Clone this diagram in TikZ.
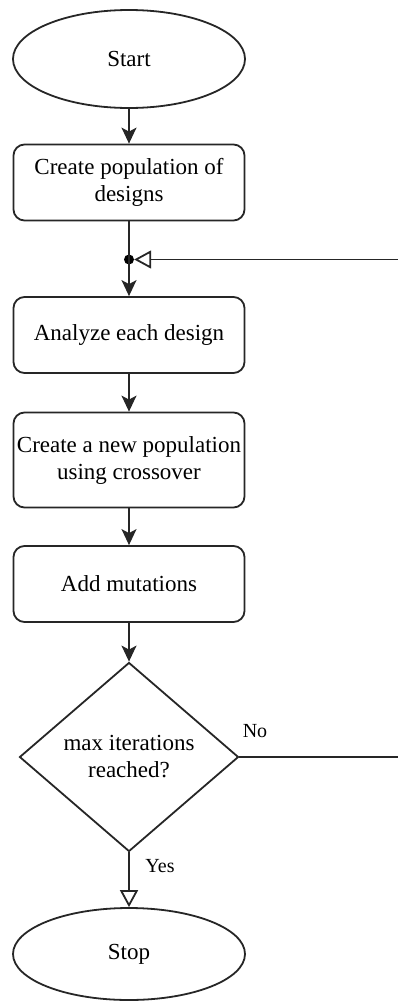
\documentclass[tikz,border=0pt]{standalone}
\usepackage{fontspec}
\setmainfont{Liberation Serif}
\usetikzlibrary{shapes.geometric,arrows.meta}
\tikzset{
  base/.style={draw=black!85, line width=1.8pt, inner sep=0pt, align=center,
    font=\fontsize{23}{27}\selectfont},
  term/.style={base, ellipse, minimum width=232pt, minimum height=98pt},
  proc/.style={base, rectangle, rounded corners=11pt, minimum width=231pt},
  decis/.style={base, diamond, minimum width=219pt, minimum height=189pt},
  flow/.style={draw=black!85, line width=1.8pt, -{Stealth[length=16pt,width=15pt,inset=4pt]}},
  open/.style={draw=black!85, line width=1.8pt, -{Triangle[open,length=17pt,width=18pt,fill=white]}},
  plain/.style={draw=black!85, line width=1.8pt},
  lbl/.style={font=\fontsize{20}{23}\selectfont, inner sep=0pt}
}
\begin{document}
\begin{tikzpicture}[x=1pt,y=-1pt]
\useasboundingbox (0,0) rectangle (398,1002);
\node[term] (start) at (129,59) {Start};
\node[proc, minimum height=76pt] (b1) at (129,182.5) {Create population of\\designs};
\node[circle, fill=black, inner sep=0pt, minimum size=10pt] (dot) at (129,259.5) {};
\node[proc, minimum height=76pt] (b2) at (129,335) {Analyze each design};
\node[proc, minimum height=95pt] (b3) at (129,460) {Create a new population\\using crossover};
\node[proc, minimum height=76pt] (b4) at (129,584) {Add mutations};
\node[decis] (dec) at (129,757) {max iterations\\reached?};
\node[term, minimum height=92pt] (stop) at (129,954) {Stop};
\coordinate (fbr) at (398,259.5);
\coordinate (cr) at (398,757);
\node[lbl] (no) at (255,731) {No};
\node[lbl] (yes) at (160,866) {Yes};

\draw[flow] (start) -- (b1);
\draw[plain] (b1) -- (dot.center);
\draw[flow] (dot.center) -- (b2);
\draw[open] (fbr) -- (dot);
\draw[flow] (b2) -- (b3);
\draw[flow] (b3) -- (b4);
\draw[flow] (b4) -- (dec);
\draw[open] (dec) -- (stop);
\draw[plain] (dec.east) -- (cr);
\end{tikzpicture}
\end{document}
